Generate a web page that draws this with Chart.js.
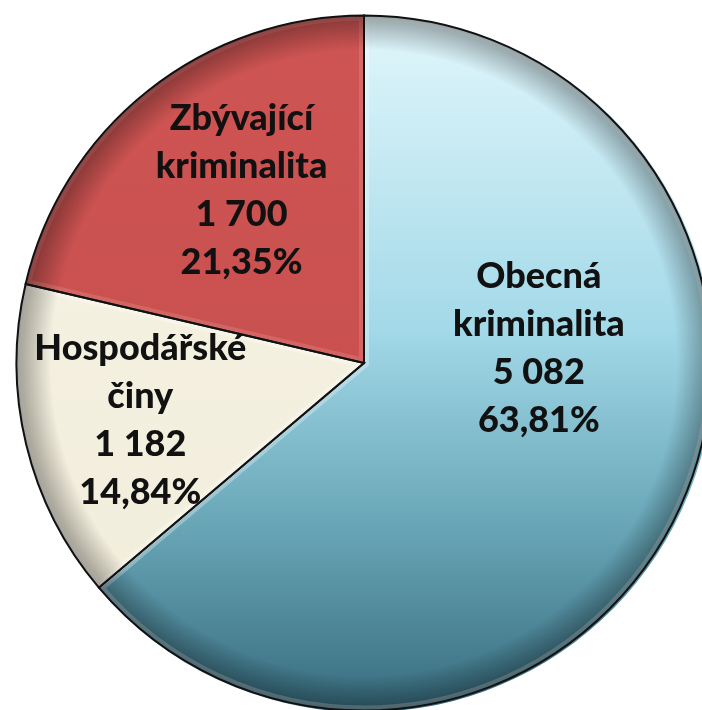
<!DOCTYPE html>
<html>
<head>
<meta charset="utf-8">
<script src="https://cdn.jsdelivr.net/npm/chart.js@4.4.1/dist/chart.umd.min.js"></script>
<style>
  html, body { margin: 0; padding: 0; background: #fff; overflow: hidden; }
  #wrap { position: absolute; left: 0; top: 0; width: 720px; height: 720px; }
</style>
</head>
<body>
<div id="wrap"><canvas id="chart"></canvas></div>
<script>
// data
const categories = ['Obecná kriminalita', 'Hospodářské činy', 'Zbývající kriminalita'];
const labelLines = [['Obecná', 'kriminalita'], ['Hospodářské', 'činy'], ['Zbývající', 'kriminalita']];
const counts = [5082, 1182, 1700];
const shares = ['63,81%', '14,84%', '21,35%'];

// label placement (angle clockwise from top in degrees, distance as part of radius)
const labelAngle = [85.1, 255.5, 324.7];
const labelDist = [0.505, 0.665, 0.61];

function fmt(n) {
  return String(n).replace(/\B(?=(\d{3})+(?!\d))/g, ' ');
}

function sliceFill(ctx) {
  const chart = ctx.chart;
  const area = chart.chartArea;
  if (!area) return '#ccc';
  const c = chart.ctx;
  const g = c.createLinearGradient(0, area.top, 0, area.bottom);
  if (ctx.dataIndex === 0) {
    g.addColorStop(0, '#e2f7fc');
    g.addColorStop(0.45, '#a3d9e8');
    g.addColorStop(0.72, '#6aa8b9');
    g.addColorStop(1, '#376b7d');
  } else if (ctx.dataIndex === 1) {
    g.addColorStop(0, '#f7f4e6');
    g.addColorStop(1, '#f1ecda');
  } else {
    g.addColorStop(0, '#ce5553');
    g.addColorStop(1, '#c44c4b');
  }
  return g;
}

// bevel look: light edge inside each slice and dark rim
const bevel = {
  id: 'bevel',
  afterDatasetsDraw(chart) {
    const c = chart.ctx;
    const arcs = chart.getDatasetMeta(0).data;
    arcs.forEach((arc, i) => {
      const p = arc.getProps(['x', 'y', 'startAngle', 'endAngle', 'outerRadius']);
      c.save();
      c.beginPath();
      c.moveTo(p.x, p.y);
      c.arc(p.x, p.y, p.outerRadius, p.startAngle, p.endAngle);
      c.closePath();
      c.clip();
      c.lineWidth = 10;
      c.strokeStyle = i === 2 ? 'rgba(255,200,200,0.18)' : 'rgba(255,255,255,0.3)';
      c.stroke();
      const rg = c.createRadialGradient(p.x, p.y, p.outerRadius * 0.9, p.x, p.y, p.outerRadius);
      rg.addColorStop(0, 'rgba(0,0,0,0)');
      rg.addColorStop(1, 'rgba(0,0,0,0.35)');
      c.fillStyle = rg;
      c.fillRect(p.x - p.outerRadius, p.y - p.outerRadius, p.outerRadius * 2, p.outerRadius * 2);
      c.restore();
      c.save();
      c.beginPath();
      c.moveTo(p.x, p.y);
      c.arc(p.x, p.y, p.outerRadius, p.startAngle, p.endAngle);
      c.closePath();
      c.lineWidth = 2;
      c.strokeStyle = '#111';
      c.lineJoin = 'miter';
      c.stroke();
      c.restore();
    });
  }
};

const sliceLabels = {
  id: 'sliceLabels',
  afterDraw(chart) {
    const c = chart.ctx;
    const arcs = chart.getDatasetMeta(0).data;
    c.save();
    c.font = '900 36px Lato';
    c.fillStyle = '#111';
    c.textAlign = 'center';
    c.textBaseline = 'middle';
    arcs.forEach((arc, i) => {
      const p = arc.getProps(['x', 'y', 'outerRadius']);
      const a = labelAngle[i] * Math.PI / 180;
      const cx = p.x + Math.sin(a) * p.outerRadius * labelDist[i];
      const cy = p.y - Math.cos(a) * p.outerRadius * labelDist[i];
      const lines = labelLines[i].concat([fmt(counts[i]), shares[i]]);
      const lh = 48;
      lines.forEach((t, k) => {
        c.fillText(t, cx, cy + (k - (lines.length - 1) / 2) * lh);
      });
    });
    c.restore();
  }
};

new Chart(document.getElementById('chart'), {
  type: 'pie',
  data: {
    labels: categories,
    datasets: [{
      data: counts,
      backgroundColor: sliceFill,
      borderWidth: 0,
      offset: [5, 0, 0]
    }]
  },
  options: {
    responsive: true,
    maintainAspectRatio: false,
    animation: false,
    layout: { padding: { left: 14, top: 13, right: 6, bottom: 7 } },
    plugins: {
      legend: { display: false },
      tooltip: { enabled: false }
    }
  },
  plugins: [bevel, sliceLabels]
});
</script>
</body>
</html>
